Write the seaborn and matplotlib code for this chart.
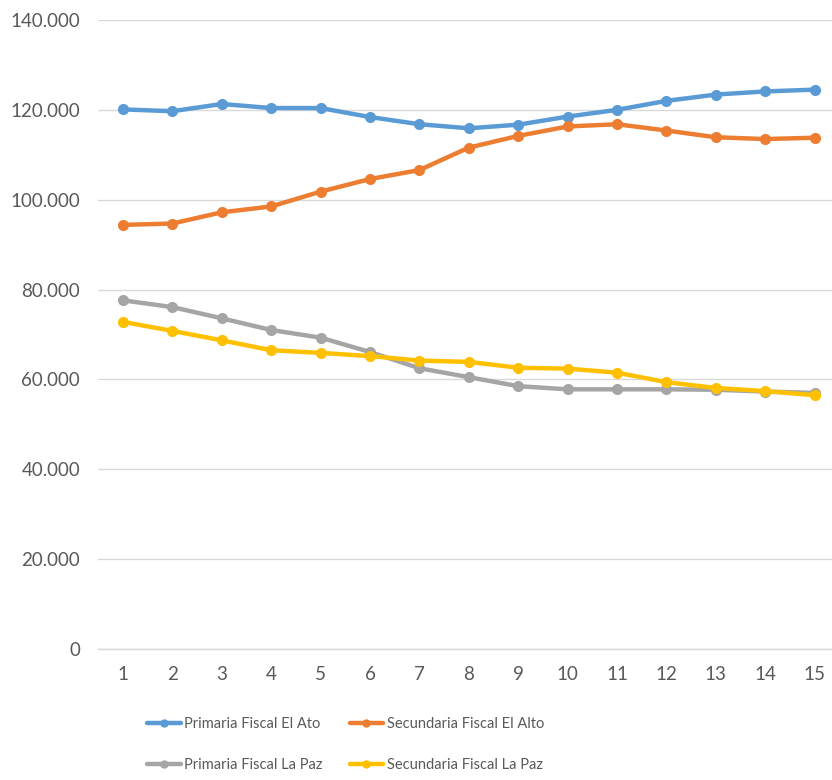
import matplotlib
matplotlib.use("Agg")
import matplotlib.pyplot as plt
import seaborn as sns
import pandas as pd
from matplotlib.lines import Line2D
from matplotlib.ticker import FuncFormatter, MultipleLocator
from matplotlib import font_manager

periods = list(range(1, 16))
series_names = ["Primaria Fiscal El Ato", "Secundaria Fiscal El Alto",
                "Primaria Fiscal La Paz", "Secundaria Fiscal La Paz"]
primaria_el_alto = [120100, 119700, 121300, 120400, 120400, 118400, 116800, 115900,
                    116700, 118500, 120000, 122000, 123400, 124100, 124500]
secundaria_el_alto = [94400, 94700, 97200, 98500, 101800, 104600, 106600, 111600,
                      114200, 116300, 116800, 115400, 113900, 113500, 113800]
primaria_la_paz = [77600, 76100, 73600, 71000, 69300, 66100, 62500, 60500,
                   58500, 57800, 57800, 57800, 57700, 57300, 57000]
secundaria_la_paz = [72800, 70800, 68700, 66500, 65900, 65200, 64200, 63900,
                     62600, 62400, 61500, 59400, 58100, 57400, 56500]
colors = ["#5B9BD5", "#ED7D31", "#A5A5A5", "#FFC000"]

values = [primaria_el_alto, secundaria_el_alto, primaria_la_paz, secundaria_la_paz]
rows = []
for name, vals in zip(series_names, values):
    for p, v in zip(periods, vals):
        rows.append({"period": p, "value": v, "serie": name})
df = pd.DataFrame(rows)

sns.set_theme(style="white")
plt.rcParams["font.family"] = ["Lato", "DejaVu Sans"]

avail = {f.name for f in font_manager.fontManager.ttflist}
legend_family = "Liberation Sans Narrow" if "Liberation Sans Narrow" in avail else "Lato"
legend_size = 11.5 if legend_family == "Liberation Sans Narrow" else 10.5

fig = plt.figure(figsize=(8.32, 7.8), dpi=100)
ax = fig.add_axes([98.3 / 832, 131 / 780, 741 / 832, 629 / 780])

palette = dict(zip(series_names, colors))
sns.lineplot(data=df, x="period", y="value", hue="serie", palette=palette,
             hue_order=series_names, marker="o", markersize=8, markeredgewidth=0,
             linewidth=3.2, legend=False, ax=ax)

ax.set_xlim(0.5, 15.5)
ax.set_ylim(0, 140000)
ax.yaxis.set_major_locator(MultipleLocator(20000))
ax.yaxis.set_major_formatter(FuncFormatter(lambda v, _: f"{int(v):,}".replace(",", ".")))
ax.set_xticks(periods)
ax.set_xticklabels([str(p) for p in periods])
ax.set_xlabel("")
ax.set_ylabel("")
ax.grid(axis="y", color="#D9D9D9", linewidth=1)
ax.grid(axis="x", visible=False)
for s in ["top", "right", "left"]:
    ax.spines[s].set_visible(False)
ax.spines["bottom"].set_color("#D9D9D9")
ax.spines["bottom"].set_linewidth(1)
ax.tick_params(axis="both", length=0, labelsize=13.5, labelcolor="#595959")
ax.tick_params(axis="y", pad=13)
ax.tick_params(axis="x", pad=12)

order = [0, 2, 1, 3]
handles = [Line2D([0], [0], color=colors[i], linewidth=3.2, marker="o",
                  markersize=6, markeredgewidth=0) for i in order]
labels = [series_names[i] for i in order]
fig.legend(handles, labels, loc="upper left", bbox_to_anchor=(147 / 832, 1 - 717 / 780),
           ncol=2, frameon=False, prop={"family": legend_family, "size": legend_size},
           labelcolor="#595959",
           handlelength=2.3, handletextpad=0.25, columnspacing=1.85,
           labelspacing=1.85, borderpad=0, borderaxespad=0)

fig.savefig("out.png", dpi=100)
